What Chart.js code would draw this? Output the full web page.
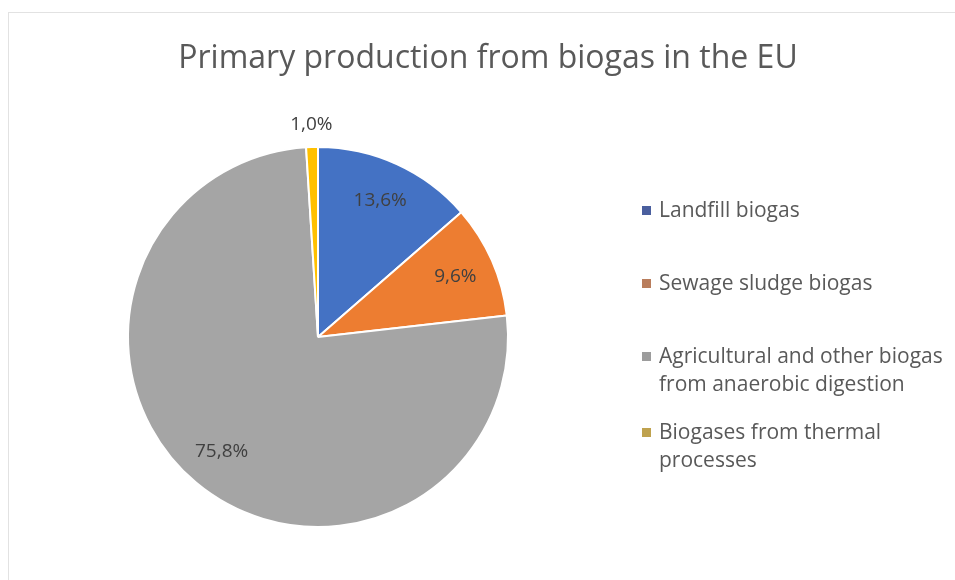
<!DOCTYPE html>
<html>
<head>
<meta charset="utf-8">
<title>Primary production from biogas in the EU</title>
<script src="https://cdn.jsdelivr.net/npm/chart.js@4.4.1/dist/chart.umd.min.js"></script>
<style>
    html, body { margin: 0; padding: 0; background: #ffffff; }
    #wrap { position: relative; width: 955px; height: 580px; }
</style>
</head>
<body>
<div id="wrap"><canvas id="biogas-chart"></canvas></div>
<script>
const chartTitle = 'Primary production from biogas in the EU';
const categories = [
    'Landfill biogas',
    'Sewage sludge biogas',
    'Agricultural and other biogas from anaerobic digestion',
    'Biogases from thermal processes'
];
// legend text broken the way it wraps next to the pie
const legendLines = [
    ['Landfill biogas'],
    ['Sewage sludge biogas'],
    ['Agricultural and other biogas', 'from anaerobic digestion'],
    ['Biogases from thermal', 'processes']
];
const shares = [13.6, 9.6, 75.8, 1.0];
const sliceColors = ['#4472C4', '#ED7D31', '#A5A5A5', '#FFC000'];
const markerColors = ['#4A5F9E', '#B97D5C', '#9C9C9C', '#BFA24E'];

const formatShare = v => v.toFixed(1).replace('.', ',') + '%';

const decorations = {
    id: 'decorations',
    beforeDraw(chart) {
        const ctx = chart.ctx;
        ctx.save();
        ctx.strokeStyle = '#e2e2e2';
        ctx.lineWidth = 1;
        ctx.strokeRect(8.5, 12.5, 1000, 1000);
        ctx.restore();
    },
    afterDatasetsDraw(chart) {
        const ctx = chart.ctx;
        ctx.save();

        // title
        ctx.fillStyle = '#595959';
        ctx.font = '32px "Open Sans"';
        ctx.textAlign = 'center';
        ctx.textBaseline = 'alphabetic';
        ctx.fillText(chartTitle, 488, 68);

        // value labels: tiny slices get theirs outside the pie
        const arcs = chart.getDatasetMeta(0).data;
        ctx.font = '19px "Open Sans"';
        ctx.fillStyle = '#404040';
        ctx.textBaseline = 'middle';
        arcs.forEach((arc, i) => {
            const mid = (arc.startAngle + arc.endAngle) / 2;
            const r = shares[i] < 3 ? arc.outerRadius * 1.12 : arc.outerRadius * 0.79;
            const x = arc.x + Math.cos(mid) * r;
            const y = arc.y + Math.sin(mid) * r;
            ctx.fillText(formatShare(shares[i]), x, y);
        });

        // legend
        const rowBase = [217, 290, 363, 439];
        ctx.font = '21px "Open Sans"';
        ctx.textAlign = 'left';
        ctx.textBaseline = 'alphabetic';
        legendLines.forEach((lines, i) => {
            ctx.fillStyle = markerColors[i];
            ctx.fillRect(642, rowBase[i] - 11, 9, 9);
            ctx.fillStyle = '#595959';
            lines.forEach((line, j) => {
                ctx.fillText(line, 659, rowBase[i] + j * 28);
            });
        });

        ctx.restore();
    }
};

new Chart(document.getElementById('biogas-chart'), {
    type: 'pie',
    data: {
        labels: categories,
        datasets: [{
            data: shares,
            backgroundColor: sliceColors,
            borderColor: '#ffffff',
            borderWidth: 2,
            radius: 190
        }]
    },
    options: {
        responsive: true,
        maintainAspectRatio: false,
        animation: false,
        layout: {
            padding: { left: 128, right: 447, top: 147, bottom: 53 }
        },
        plugins: {
            legend: { display: false },
            title: { display: false },
            tooltip: { enabled: false }
        }
    },
    plugins: [decorations]
});
</script>
</body>
</html>
